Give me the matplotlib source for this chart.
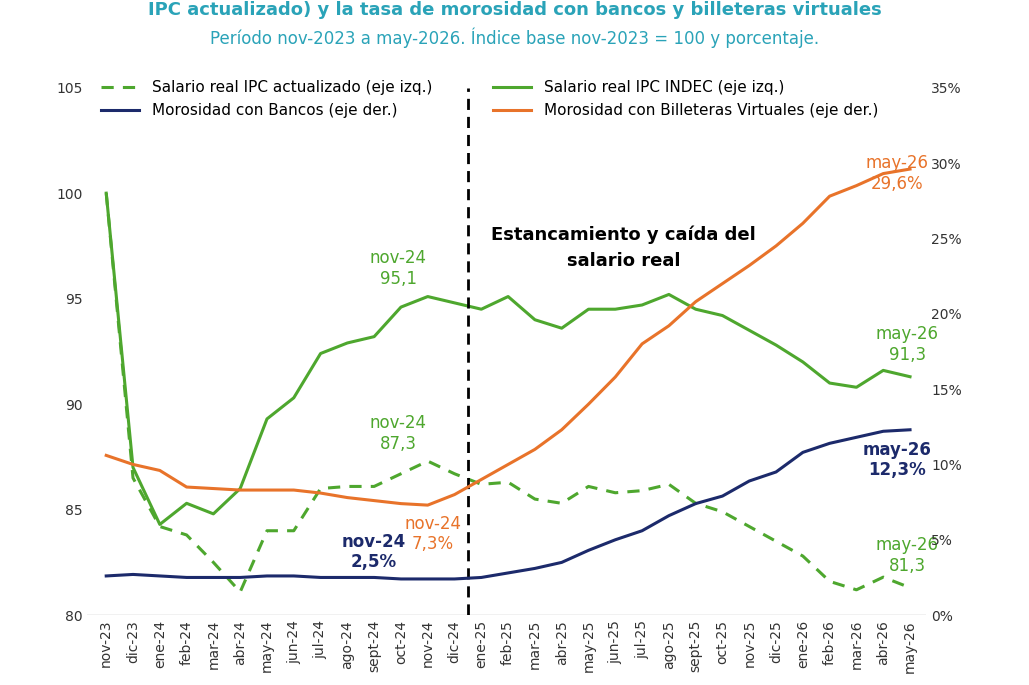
import matplotlib
matplotlib.use("Agg")
import matplotlib.pyplot as plt
import numpy as np

months = ["nov-23","dic-23","ene-24","feb-24","mar-24","abr-24","may-24","jun-24","jul-24","ago-24","sept-24","oct-24","nov-24","dic-24",
          "ene-25","feb-25","mar-25","abr-25","may-25","jun-25","jul-25","ago-25","sept-25","oct-25","nov-25","dic-25",
          "ene-26","feb-26","mar-26","abr-26","may-26"]
indec = [100,87,84.3,85.3,84.8,86,89.3,90.3,92.4,92.9,93.2,94.6,95.1,94.8,94.5,95.1,94.0,93.6,94.5,94.5,94.7,95.2,94.5,94.2,93.5,92.8,92.0,91.0,90.8,91.6,91.3]
actual = [100,86.5,84.2,83.8,82.5,81.1,84,84,86,86.1,86.1,86.7,87.3,86.7,86.2,86.3,85.5,85.3,86.1,85.8,85.9,86.2,85.3,84.9,84.2,83.5,82.8,81.6,81.2,81.8,81.3]
bancos = [2.6,2.7,2.6,2.5,2.5,2.5,2.6,2.6,2.5,2.5,2.5,2.4,2.4,2.4,2.5,2.8,3.1,3.5,4.3,5.0,5.6,6.6,7.4,7.9,8.9,9.5,10.8,11.4,11.8,12.2,12.3]
billeteras = [10.6,10.0,9.6,8.5,8.4,8.3,8.3,8.3,8.1,7.8,7.6,7.4,7.3,8.0,9.0,10.0,11.0,12.3,14.0,15.8,18.0,19.2,20.8,22.0,23.2,24.5,26.0,27.8,28.5,29.3,29.6]

GREEN = "#4ea72e"; NAVY = "#1c2a6b"; ORANGE = "#e8732a"
x = np.arange(len(months))

fig = plt.figure(figsize=(10.29, 6.85), dpi=100)
ax = fig.add_axes([0.085, 0.102, 0.815, 0.77])
ax2 = ax.twinx()
ax.plot(x, actual, color=GREEN, lw=2.2, ls=(0, (4, 3)), label="Salario real IPC actualizado (eje izq.)")
ax.plot(x, indec, color=GREEN, lw=2.2, label="Salario real IPC INDEC (eje izq.)")
ax2.plot(x, bancos, color=NAVY, lw=2.2, label="Morosidad con Bancos (eje der.)")
ax2.plot(x, billeteras, color=ORANGE, lw=2.2, label="Morosidad con Billeteras Virtuales (eje der.)")
ax.set_ylim(80, 105); ax2.set_ylim(0, 35)
ax.set_yticks([80, 85, 90, 95, 100, 105])
ax2.set_yticks(range(0, 36, 5)); ax2.set_yticklabels([f"{v}%" for v in range(0, 36, 5)])
ax.set_xlim(-0.7, len(x) - 0.4)
ax.set_xticks(x); ax.set_xticklabels(months, rotation=90, fontsize=10)
for a in (ax, ax2):
    for s in a.spines.values(): s.set_visible(False)
    a.tick_params(length=0, labelsize=10, colors="#333333")
ax.axhline(80, color="#bbbbbb", lw=1)
ax.axvline(13.5, color="black", lw=2, ls=(0, (4, 2.5)))

h1, l1 = ax.get_legend_handles_labels(); h2, l2 = ax2.get_legend_handles_labels()
hs = [h1[0], h2[0], h1[1], h2[1]]; ls_ = [l1[0], l2[0], l1[1], l2[1]]
ax.legend(hs, ls_, ncol=2, loc="upper left", bbox_to_anchor=(0.0, 1.04), frameon=False, fontsize=11,
          columnspacing=4, handlelength=2.5)

ax.text(19.3, 97.4, "Estancamiento y caída del\nsalario real", fontsize=13, fontweight="bold", ha="center", va="center", linespacing=1.6)
fs = 12
ax.text(10.9, 95.5, "nov-24\n95,1", color=GREEN, fontsize=fs, ha="center", va="bottom")
ax.text(10.9, 87.7, "nov-24\n87,3", color=GREEN, fontsize=fs, ha="center", va="bottom")
ax.text(29.9, 91.9, "may-26\n91,3", color=GREEN, fontsize=fs, ha="center", va="bottom")
ax.text(29.9, 81.9, "may-26\n81,3", color=GREEN, fontsize=fs, ha="center", va="bottom")
ax2.text(29.5, 28.0, "may-26\n29,6%", color=ORANGE, fontsize=fs, ha="center", va="bottom")
ax2.text(29.5, 9.0, "may-26\n12,3%", color=NAVY, fontsize=fs, ha="center", va="bottom", fontweight="bold")
ax2.text(10.0, 2.9, "nov-24\n2,5%", color=NAVY, fontsize=fs, ha="center", va="bottom", fontweight="bold")
ax2.text(12.2, 4.1, "nov-24\n7,3%", color=ORANGE, fontsize=fs, ha="center", va="bottom")

fig.text(0.5, 0.985, "IPC actualizado) y la tasa de morosidad con bancos y billeteras virtuales", color="#2aa3b8",
         fontsize=13, fontweight="bold", ha="center", va="center")
fig.text(0.5, 0.945, "Período nov-2023 a may-2026. Índice base nov-2023 = 100 y porcentaje.", color="#2aa3b8",
         fontsize=12, ha="center", va="center")
fig.savefig("out.png", dpi=100)
